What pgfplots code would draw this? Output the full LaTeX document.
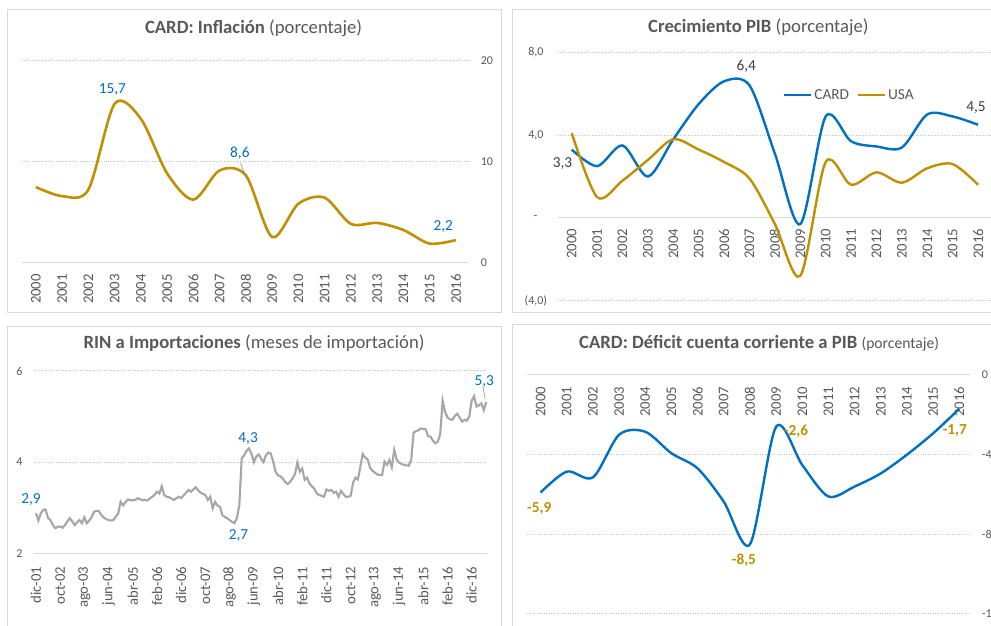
\documentclass[border=0pt]{standalone}
\usepackage{fontspec}
\setmainfont{Carlito}
\usepackage{pgfplots}
\pgfplotsset{compat=1.18}
\definecolor{gold}{HTML}{BF9000}
\definecolor{cblue}{HTML}{0070C0}
\definecolor{rgray}{HTML}{A6A6A6}
\definecolor{txtgray}{HTML}{595959}
\definecolor{gridc}{HTML}{C4C4C4}
\definecolor{axc}{HTML}{D9D9D9}
\definecolor{framec}{HTML}{D9D9D9}
\definecolor{dlab}{HTML}{404040}
\newcommand{\titlefont}{\fontsize{18.7}{22}\selectfont}
\newcommand{\xtfont}{\fontsize{14.7}{17}\selectfont}
\newcommand{\ytfont}{\fontsize{12}{14}\selectfont}
\newcommand{\dlfont}{\fontsize{15.3}{18}\selectfont}

\pgfplotstableread{
m v
0 2.88
1 2.72
2 2.88
3 2.95
4 2.96
5 2.77
6 2.73
7 2.62
8 2.55
9 2.58
10 2.59
11 2.56
12 2.62
13 2.70
14 2.77
15 2.70
16 2.62
17 2.68
18 2.73
19 2.66
20 2.79
21 2.66
22 2.72
23 2.79
24 2.91
25 2.93
26 2.93
27 2.84
28 2.79
29 2.75
30 2.73
31 2.72
32 2.73
33 2.80
34 2.88
35 3.13
36 3.05
37 3.12
38 3.18
39 3.17
40 3.16
41 3.17
42 3.21
43 3.19
44 3.16
45 3.17
46 3.16
47 3.20
48 3.24
49 3.28
50 3.35
51 3.31
52 3.47
53 3.28
54 3.24
55 3.23
56 3.20
57 3.17
58 3.21
59 3.24
60 3.21
61 3.27
62 3.33
63 3.39
64 3.35
65 3.40
66 3.45
67 3.38
68 3.33
69 3.30
70 3.28
71 3.17
72 3.24
73 2.99
74 3.13
75 3.05
76 3.02
77 2.84
78 2.80
79 2.77
80 2.73
81 2.69
82 2.66
83 2.77
84 3.05
85 4.08
86 4.15
87 4.25
88 4.30
89 4.19
90 4.00
91 4.12
92 4.17
93 4.08
94 4.00
95 4.15
96 4.21
97 4.19
98 4.01
99 3.79
100 3.71
101 3.69
102 3.64
103 3.56
104 3.52
105 3.57
106 3.64
107 3.74
108 3.99
109 3.79
110 3.86
111 3.61
112 3.66
113 3.53
114 3.47
115 3.42
116 3.31
117 3.28
118 3.26
119 3.24
120 3.40
121 3.37
122 3.39
123 3.33
124 3.35
125 3.24
126 3.37
127 3.30
128 3.24
129 3.24
130 3.26
131 3.55
132 3.66
133 3.62
134 3.90
135 4.18
136 4.10
137 4.06
138 3.88
139 3.81
140 3.77
141 3.73
142 3.72
143 3.72
144 4.01
145 3.94
146 4.05
147 3.89
148 4.27
149 4.06
150 3.99
151 3.96
152 3.94
153 3.93
154 3.92
155 4.05
156 4.65
157 4.68
158 4.70
159 4.74
160 4.73
161 4.72
162 4.57
163 4.56
164 4.47
165 4.41
166 4.45
167 4.62
168 5.35
169 5.10
170 4.98
171 4.94
172 4.93
173 5.01
174 5.06
175 4.98
176 4.89
177 4.93
178 4.91
179 5.00
180 5.35
181 5.45
182 5.22
183 5.25
184 5.29
185 5.14
186 5.32
}\rintable

\pgfplotsset{
  base/.style={
    scale only axis,
    anchor=south west,
    clip=false,
    tick style={draw=none},
    major tick length=0pt,
    ymajorgrids,
    major grid style={dotted, line width=1pt, color=gridc},
    xticklabel style={rotate=90, anchor=east, inner sep=0pt, font=\xtfont, text=txtgray},
    yticklabel style={inner sep=0pt, font=\ytfont, text=txtgray},
    title style={font=\titlefont, text=txtgray, anchor=base, inner sep=0pt},
    xtick={0,1,2,3,4,5,6,7,8,9,10,11,12,13,14,15,16},
    xticklabels={2000,2001,2002,2003,2004,2005,2006,2007,2008,2009,2010,2011,2012,2013,2014,2015,2016},
    x axis line style={-, draw=axc, line width=1pt},
    y axis line style={draw=none},
  },
}

\begin{document}
\begin{tikzpicture}[x=1pt,y=1pt]
\useasboundingbox (0,0) rectangle (991,626);
\clip (0,0) rectangle (991,626);
\fill[white] (0,0) rectangle (991,626);
\draw[framec, line width=1pt] (7,313) rectangle (501.5,616);
\draw[framec, line width=1pt] (512,313) rectangle (1000,616);
\draw[framec, line width=1pt] (7,-10) rectangle (501.5,299.3);
\draw[framec, line width=1pt] (512,-10) rectangle (1000,301);

% Panel 1: inflation
\begin{axis}[base, at={(22pt,363.7pt)}, width=447pt, height=202pt,
  xmin=-0.53, xmax=16.5, ymin=0, ymax=20,
  axis x line*=bottom, axis y line*=right,
  ytick={0,10,20}, yticklabels={0,10,20},
  yticklabel style={anchor=west}, yticklabel shift=11.7pt,
  xticklabel shift=11.7pt,
  title={\textbf{CARD: Inflación} (porcentaje)},
  title style={at={(0.518,1)}, yshift=21pt},
]
\addplot[gold, line width=2.6pt, smooth] coordinates {
(0,7.45) (1,6.55) (2,7.2) (3,15.7) (4,14.2) (5,8.8) (6,6.2) (7,9.1) (8,8.6)
(9,2.5) (10,5.8) (11,6.4) (12,3.8) (13,3.9) (14,3.2) (15,1.85) (16,2.2)};
\draw[gray, line width=0.5pt] (axis cs:7.80,9.8) -- (axis cs:7.96,8.7);
\node[font=\dlfont, text=cblue, inner sep=0pt] at (axis cs:2.91,17.1) {15,7};
\node[font=\dlfont, text=cblue, inner sep=0pt] at (axis cs:7.77,10.79) {8,6};
\node[font=\dlfont, text=cblue, inner sep=0pt] at (axis cs:15.52,3.52) {2,2};
\end{axis}

% Panel 2: GDP growth
\begin{axis}[base, at={(558pt,325.3pt)}, width=433.8pt, height=248.4pt,
  xmin=-0.54, xmax=16.54, ymin=-4, ymax=8,
  axis x line*=middle, axis y line*=left,
  ytick={-4,0,4,8}, yticklabels={{(4,0)},{-\hphantom{0)}},{4,0\hphantom{)}},{8,0\hphantom{)}}},
  yticklabel style={anchor=east}, yticklabel shift=10.7pt,
  xticklabel shift=11pt,
  title={\textbf{Crecimiento PIB} (porcentaje)},
  title style={at={(0.462,1)}, yshift=14pt},
  legend style={at={(0.519,0.828)}, anchor=west, draw=none, fill=none, inner sep=0pt,
    font=\dlfont, text=txtgray, legend columns=2,
    /tikz/every even column/.append style={column sep=6pt}},
  legend image code/.code={\draw[#1, line width=2pt] (0pt,0pt) -- (27pt,0pt);},
]
\addplot[cblue, line width=2.4pt, smooth] coordinates {
(0,3.3) (1,2.5) (2,3.5) (3,2.0) (4,3.8) (5,5.5) (6,6.6) (7,6.4) (8,3.1)
(9,-0.3) (10,4.9) (11,3.7) (12,3.45) (13,3.4) (14,5.0) (15,4.9) (16,4.5)};
\addlegendentry{CARD}
\addplot[gold, line width=2.4pt, smooth] coordinates {
(0,4.1) (1,1.0) (2,1.8) (3,2.8) (4,3.8) (5,3.3) (6,2.7) (7,1.9) (8,-0.3)
(9,-2.8) (10,2.7) (11,1.6) (12,2.2) (13,1.7) (14,2.4) (15,2.6) (16,1.6)};
\addlegendentry{USA}
\node[font=\dlfont, text=dlab, inner sep=0pt] at (axis cs:-0.36,2.62) {3,3};
\node[font=\dlfont, text=dlab, inner sep=0pt] at (axis cs:6.87,7.32) {6,4};
\node[font=\dlfont, text=dlab, inner sep=0pt] at (axis cs:15.92,5.31) {4,5};
\end{axis}

% Panel 3: reserves to imports
\begin{axis}[base, at={(34pt,72.7pt)}, width=452.7pt, height=182.3pt,
  xmin=-0.8, xmax=186.2, ymin=2, ymax=6,
  axis x line*=bottom, axis y line*=left,
  xtick={0,10,20,30,40,50,60,70,80,90,100,110,120,130,140,150,160,170,180},
  xticklabels={dic-01,oct-02,ago-03,jun-04,abr-05,feb-06,dic-06,oct-07,ago-08,jun-09,abr-10,feb-11,dic-11,oct-12,ago-13,jun-14,abr-15,feb-16,dic-16},
  ytick={2,4,6}, yticklabels={2,4,6},
  yticklabel style={anchor=east}, yticklabel shift=11.3pt,
  xticklabel shift=13.4pt,
  title={\textbf{RIN a Importaciones} (meses de importación)},
  title style={at={(0.486,1)}, yshift=16pt},
]
\addplot[rgray, line width=2.1pt] table[x=m, y=v] {\rintable};
\draw[gray, line width=0.5pt] (axis cs:184.6,5.66) -- (axis cs:185.6,5.38);
\node[font=\dlfont, text=cblue, inner sep=0pt] at (axis cs:-2.06,3.19) {2,9};
\node[font=\dlfont, text=cblue, inner sep=0pt] at (axis cs:83.7,2.39) {2,7};
\node[font=\dlfont, text=cblue, inner sep=0pt] at (axis cs:87.65,4.51) {4,3};
\node[font=\dlfont, text=cblue, inner sep=0pt] at (axis cs:185.2,5.78) {5,3};
\end{axis}

% Panel 4: current account deficit
\begin{axis}[base, at={(527pt,12pt)}, width=443pt, height=239pt,
  xmin=-0.52, xmax=16.41, ymin=-12, ymax=0,
  axis x line*=middle, axis y line*=right,
  ytick={-12,-8,-4,0}, yticklabels={-12,-8,-4,0},
  yticklabel style={anchor=west}, yticklabel shift=11.7pt,
  xticklabel shift=11.7pt,
  title={\textbf{CARD: Déficit cuenta corriente a PIB} {\fontsize{15.6}{18}\selectfont(porcentaje)}},
  title style={at={(0.524,1)}, yshift=20.7pt},
]
\addplot[cblue, line width=2.4pt, smooth] coordinates {
(0,-5.9) (1,-4.85) (2,-5.14) (3,-3.0) (4,-2.85) (5,-3.93) (6,-4.69) (7,-6.36)
(8,-8.5) (9,-2.6) (10,-4.52) (11,-6.1) (12,-5.6) (13,-4.94) (14,-4.0) (15,-2.93) (16,-1.7)};
\node[font=\bfseries\dlfont, text=gold, inner sep=0pt] at (axis cs:-0.05,-6.68) {-5,9};
\node[font=\bfseries\dlfont, text=gold, inner sep=0pt] at (axis cs:7.77,-9.32) {-8,5};
\node[font=\bfseries\dlfont, text=gold, inner sep=0pt] at (axis cs:9.76,-2.85) {-2,6};
\node[font=\bfseries\dlfont, text=gold, inner sep=0pt] at (axis cs:15.83,-2.81) {-1,7};
\end{axis}
\end{tikzpicture}
\end{document}
